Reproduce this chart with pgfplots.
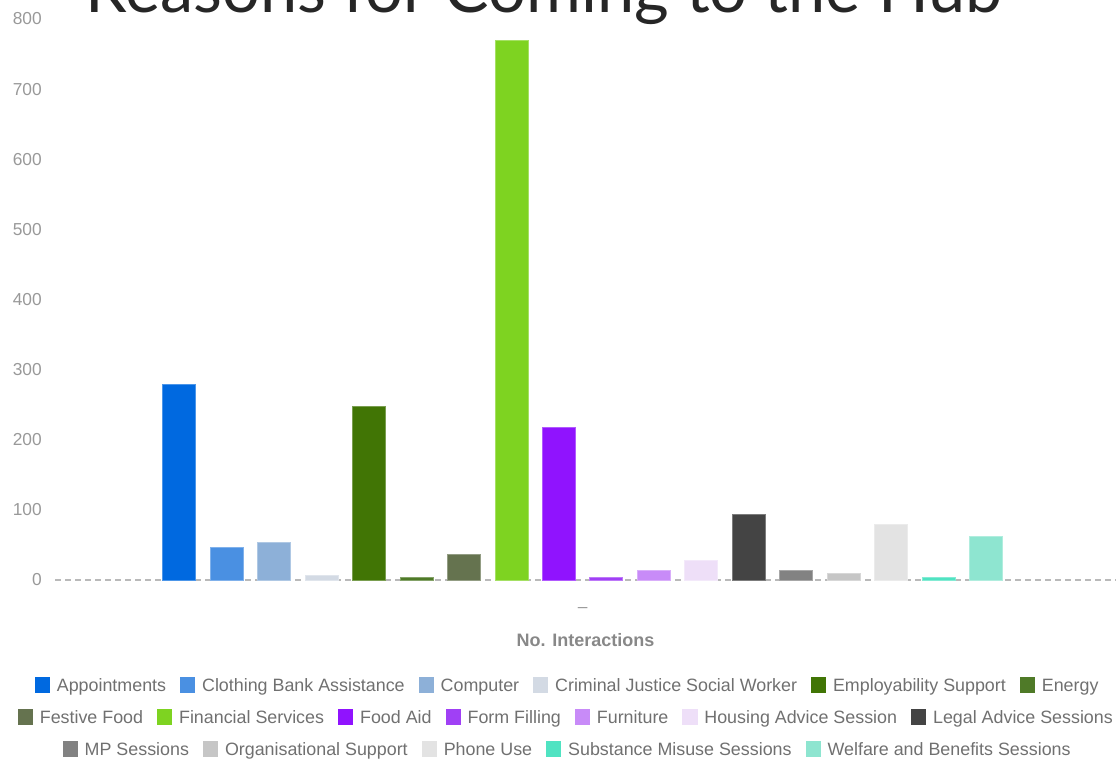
\documentclass[border=0pt]{standalone}
\usepackage{pgfplots}
\pgfplotsset{compat=1.18}
\usepackage{fontspec}
\setmainfont{Liberation Sans}
\newfontfamily\titlefont{Lato}
\definecolor{c1}{HTML}{0069E0}
\definecolor{c2}{HTML}{4A90E2}
\definecolor{c3}{HTML}{8DB0D8}
\definecolor{c4}{HTML}{D3DAE4}
\definecolor{c5}{HTML}{417505}
\definecolor{c6}{HTML}{4F7A28}
\definecolor{c7}{HTML}{65734F}
\definecolor{c8}{HTML}{7ED321}
\definecolor{c9}{HTML}{9013FE}
\definecolor{c10}{HTML}{A040F5}
\definecolor{c11}{HTML}{C88BF8}
\definecolor{c12}{HTML}{EEDFF8}
\definecolor{c13}{HTML}{444444}
\definecolor{c14}{HTML}{828282}
\definecolor{c15}{HTML}{C6C6C6}
\definecolor{c16}{HTML}{E3E3E3}
\definecolor{c17}{HTML}{50E3C2}
\definecolor{c18}{HTML}{8EE5D0}
\definecolor{tickgray}{HTML}{999999}
\definecolor{labgray}{HTML}{888888}
\definecolor{leggray}{HTML}{707070}
\newcommand{\li}[2]{{\color{#1}\rule[-1.2pt]{11.5pt}{11.5pt}}\hspace{5pt}#2}
\newcommand{\gap}{\hspace{10.5pt}}
\begin{document}
\begin{tikzpicture}
\useasboundingbox (0,0) rectangle (837pt,570.75pt);
\begin{axis}[
  at={(41.25pt,135.75pt)}, anchor=south west,
  scale only axis, width=795.75pt, height=420.75pt,
  xmin=-2.62, xmax=19.74, ymin=0, ymax=800,
  ybar, bar shift=0pt, bar width=24.75pt,
  axis line style={draw=none},
  major tick length=0pt,
  ytick={100,200,...,800},
  extra y ticks={0},
  extra y tick style={grid=major, major grid style={draw=gray!55, line width=0.9pt, dash pattern=on 4.5pt off 3pt}},
  xtick={8.5}, xticklabels={--},
  xticklabel style={text=tickgray, font=\fontsize{13}{15}\selectfont, yshift=-17pt},
  yticklabel style={anchor=east, inner sep=0pt, xshift=-9.75pt, text=tickgray, font=\fontsize{13}{15}\selectfont},
  /pgf/number format/assume math mode=true,
  xlabel={No. Interactions},
  xlabel style={at={(axis description cs:0.5,0)}, anchor=center, yshift=-45pt, text=labgray, font=\bfseries\fontsize{13.5}{16}\selectfont},
  clip=false,
]
\addplot[fill=c1, draw=c1!70!white, line width=0.6pt] coordinates {(0,279)};
\addplot[fill=c2, draw=c2!70!white, line width=0.6pt] coordinates {(1,46)};
\addplot[fill=c3, draw=c3!70!white, line width=0.6pt] coordinates {(2,53)};
\addplot[fill=c4, draw=c4!70!white, line width=0.6pt] coordinates {(3,7)};
\addplot[fill=c5, draw=c5!70!white, line width=0.6pt] coordinates {(4,248)};
\addplot[fill=c6, draw=c6!70!white, line width=0.6pt] coordinates {(5,3)};
\addplot[fill=c7, draw=c7!70!white, line width=0.6pt] coordinates {(6,36)};
\addplot[fill=c8, draw=c8!70!white, line width=0.6pt] coordinates {(7,769)};
\addplot[fill=c9, draw=c9!70!white, line width=0.6pt] coordinates {(8,218)};
\addplot[fill=c10, draw=c10!70!white, line width=0.6pt] coordinates {(9,4)};
\addplot[fill=c11, draw=c11!70!white, line width=0.6pt] coordinates {(10,13)};
\addplot[fill=c12, draw=c12!70!white, line width=0.6pt] coordinates {(11,28)};
\addplot[fill=c13, draw=c13!70!white, line width=0.6pt] coordinates {(12,93)};
\addplot[fill=c14, draw=c14!70!white, line width=0.6pt] coordinates {(13,13)};
\addplot[fill=c15, draw=c15!70!white, line width=0.6pt] coordinates {(14,10)};
\addplot[fill=c16, draw=c16!70!white, line width=0.6pt] coordinates {(15,79)};
\addplot[fill=c17, draw=c17!70!white, line width=0.6pt] coordinates {(16,3)};
\addplot[fill=c18, draw=c18!70!white, line width=0.6pt] coordinates {(17,62)};
\end{axis}
\node[anchor=base, inner sep=0pt, text=black!85] at (408pt,561pt) {\titlefont\fontsize{50}{54}\selectfont Reasons for Coming to the Hub};
\begin{scope}[every node/.style={inner sep=0pt, text=leggray, font=\fontsize{13.4}{16}\selectfont}]
\node at (425pt,56.25pt) {\li{c1}{Appointments}\gap\li{c2}{Clothing Bank Assistance}\gap\li{c3}{Computer}\gap\li{c4}{Criminal Justice Social Worker}\gap\li{c5}{Employability Support}\gap\li{c6}{Energy}};
\node at (424pt,32.25pt) {\li{c7}{Festive Food}\gap\li{c8}{Financial Services}\gap\li{c9}{Food Aid}\gap\li{c10}{Form Filling}\gap\li{c11}{Furniture}\gap\li{c12}{Housing Advice Session}\gap\li{c13}{Legal Advice Sessions}};
\node at (425pt,8.25pt) {\li{c14}{MP Sessions}\gap\li{c15}{Organisational Support}\gap\li{c16}{Phone Use}\gap\li{c17}{Substance Misuse Sessions}\gap\li{c18}{Welfare and Benefits Sessions}};
\end{scope}
\end{tikzpicture}
\end{document}
